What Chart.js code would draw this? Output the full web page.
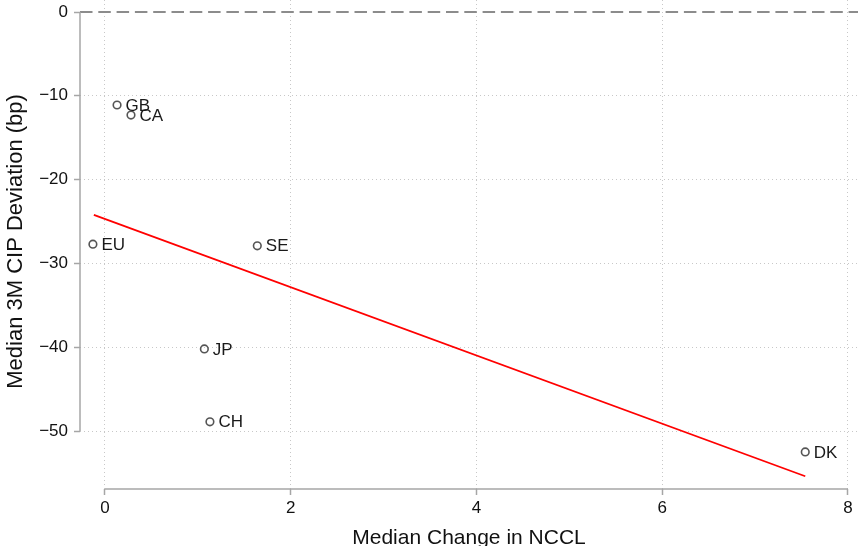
<!DOCTYPE html>
<html>
<head>
<meta charset="utf-8">
<script src="https://cdn.jsdelivr.net/npm/chart.js@4.4.1/dist/chart.umd.min.js"></script>
<style>
html,body{margin:0;padding:0;overflow:hidden;background:#fff;}
#wrap{width:858px;height:552px;position:relative;}
</style>
</head>
<body>
<div id="wrap"><canvas id="c" width="858" height="552"></canvas></div>
<script>
// Data
const countries = ["GB", "CA", "EU", "SE", "JP", "CH", "DK"];
const nccl = [0.13, 0.28, -0.13, 1.64, 1.07, 1.13, 7.54];
const cip = [-11.1, -12.3, -27.7, -27.9, -40.2, -48.9, -52.5];
// Fitted line endpoints
const fitX = [-0.12, 7.54];
const fitY = [-24.2, -55.4];
// Axis ticks
const xTicks = [0, 2, 4, 6, 8];
const yTicks = [0, -10, -20, -30, -40, -50];

const pts = nccl.map((x, i) => ({x: x, y: cip[i]}));
const fit = fitX.map((x, i) => ({x: x, y: fitY[i]}));

Chart.defaults.font.family = "'Liberation Sans', Arial, Helvetica, sans-serif";
Chart.defaults.color = '#111';

const labelPlugin = {
  id: 'pointLabels',
  afterDatasetsDraw(chart) {
    const ctx = chart.ctx;
    const meta = chart.getDatasetMeta(0);
    ctx.save();
    ctx.font = "17px 'Liberation Sans', Arial, sans-serif";
    ctx.fillStyle = '#1a1a1a';
    ctx.textBaseline = 'middle';
    ctx.textAlign = 'left';
    meta.data.forEach((el, i) => {
      ctx.fillText(countries[i], el.x + 8.5, el.y + 1);
    });
    ctx.restore();
  }
};

const axisPlugin = {
  id: 'axisLines',
  beforeDatasetsDraw(chart) {
    const ctx = chart.ctx;
    const xs = chart.scales.x, ys = chart.scales.y;
    const area = chart.chartArea;
    ctx.save();
    // zero reference line (dashed)
    const y0 = ys.getPixelForValue(0);
    ctx.strokeStyle = '#8c8c8c';
    ctx.lineWidth = 1.8;
    ctx.setLineDash([12.5, 5.8]);
    ctx.beginPath();
    ctx.moveTo(area.left, y0);
    ctx.lineTo(area.right, y0);
    ctx.stroke();
    ctx.setLineDash([]);
    // axis lines spanning tick range
    ctx.strokeStyle = '#a6a6a6';
    ctx.lineWidth = 1.5;
    ctx.beginPath();
    ctx.moveTo(area.left, ys.getPixelForValue(yTicks[0]));
    ctx.lineTo(area.left, ys.getPixelForValue(yTicks[yTicks.length - 1]));
    ctx.stroke();
    ctx.beginPath();
    ctx.moveTo(xs.getPixelForValue(xTicks[0]), area.bottom);
    ctx.lineTo(xs.getPixelForValue(xTicks[xTicks.length - 1]), area.bottom);
    ctx.stroke();
    ctx.restore();
  }
};

new Chart(document.getElementById('c'), {
  type: 'scatter',
  data: {
    datasets: [
      {
        label: 'Countries',
        data: pts,
        pointStyle: 'circle',
        pointRadius: 3.8,
        pointHoverRadius: 3.8,
        borderColor: '#555555',
        borderWidth: 1.6,
        backgroundColor: 'rgba(255,255,255,0)',
        order: 1
      },
      {
        label: 'Fit',
        type: 'line',
        data: fit,
        borderColor: '#ff0000',
        borderWidth: 1.8,
        pointRadius: 0,
        fill: false,
        tension: 0,
        order: 2
      }
    ]
  },
  options: {
    responsive: false,
    animation: false,
    layout: {padding: 0, autoPadding: false},
    plugins: {legend: {display: false}, tooltip: {enabled: false}},
    scales: {
      x: {
        type: 'linear',
        min: -0.269,
        max: 8.108,
        afterFit(s) { s.height = 63; s.paddingLeft = 0; s.paddingRight = 0; },
        afterBuildTicks(s) { s.ticks = xTicks.map(v => ({value: v})); },
        ticks: {
          includeBounds: false,
          stepSize: 2,
          padding: 3,
          font: {size: 17},
          color: '#111',
          maxRotation: 0,
          callback: v => String(v)
        },
        grid: {
          color: '#c8c8c8',
          lineWidth: 1,
          borderDash: [1, 3],
          drawTicks: true,
          tickLength: 6,
          tickColor: '#a6a6a6',
          tickWidth: 1.5,
          tickBorderDash: []
        },
        border: {display: false, dash: [1, 3]},
        title: {
          display: true,
          text: 'Median Change in NCCL',
          font: {size: 21},
          color: '#111',
          padding: {top: 0, bottom: 1}
        }
      },
      y: {
        type: 'linear',
        min: -56.92,
        max: 1.432,
        afterFit(s) { s.width = 80; s.paddingTop = 0; s.paddingBottom = 0; },
        afterBuildTicks(s) { s.ticks = yTicks.map(v => ({value: v})); },
        ticks: {
          includeBounds: false,
          stepSize: 10,
          padding: 6,
          font: {size: 17},
          color: '#111',
          callback: v => String(v).replace('-', '\u2212')
        },
        grid: {
          color: ctx => (ctx.tick && ctx.tick.value === 0) ? 'rgba(0,0,0,0)' : '#c8c8c8',
          lineWidth: 1,
          borderDash: [1, 3],
          drawTicks: true,
          tickLength: 6,
          tickColor: '#a6a6a6',
          tickWidth: 1.5,
          tickBorderDash: []
        },
        border: {display: false, dash: [1, 3]},
        title: {
          display: true,
          text: ' Median 3M CIP Deviation (bp)',
          font: {size: 22},
          color: '#111',
          padding: {top: 3, bottom: 0}
        }
      }
    }
  },
  plugins: [axisPlugin, labelPlugin]
});
</script>
</body>
</html>
